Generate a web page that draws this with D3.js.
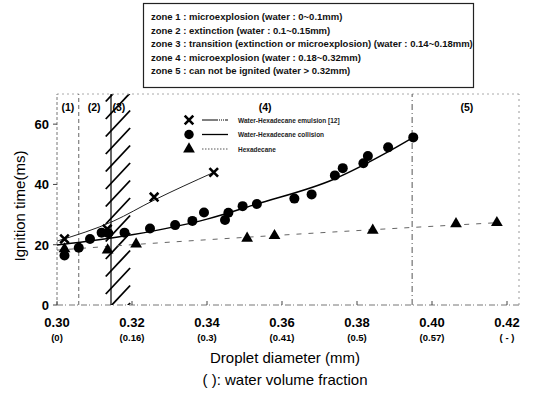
<!DOCTYPE html>
<html>
<head>
<meta charset="utf-8">
<script src="https://cdn.jsdelivr.net/npm/d3@7"></script>
<style>
  body { margin: 0; background: #fff; }
  svg { font-family: Arial, "Liberation Sans", sans-serif; }
  .zt { font-size: 9.5px; font-weight: bold; fill: #111; }
  .tick-x { font-size: 13px; font-weight: bold; }
  .tick-sub { font-size: 9.5px; font-weight: bold; }
  .lg { font-size: 6.5px; font-weight: bold; fill: #222; }
</style>
</head>
<body>
<div id="chart"></div>
<script>
// data ---------------------------------------------------------------------
var zoneNotes = [
  "zone 1 : microexplosion (water : 0~0.1mm)",
  "zone 2 : extinction (water : 0.1~0.15mm)",
  "zone 3 : transition (extinction or microexplosion) (water : 0.14~0.18mm)",
  "zone 4 : microexplosion (water : 0.18~0.32mm)",
  "zone 5 : can not be ignited (water > 0.32mm)"
];

var xTicks = [0.30, 0.32, 0.34, 0.36, 0.38, 0.40, 0.42];
var xSubLabels = ["(0)", "(0.16)", "(0.3)", "(0.41)", "(0.5)", "(0.57)", "( - )"];
var yTicks = [0, 20, 40, 60];

// emulsion [12]  (crosses)
var emulsionD = [0.302, 0.3134, 0.3259, 0.3418];
var emulsionT = [21.9, 25.2, 35.8, 44.0];
var emulsionFitD = [0.300, 0.315, 0.3259, 0.3418];
var emulsionFitT = [21.2, 27.8, 34.8, 44.0];

// collision (circles)
var collisionD = [0.302, 0.3058, 0.3088, 0.3119, 0.3137, 0.3180, 0.3248, 0.3315, 0.3361,
                  0.3392, 0.3448, 0.3457, 0.3495, 0.3533, 0.3633, 0.3679, 0.3741, 0.3762,
                  0.3817, 0.3829, 0.3883, 0.3950];
var collisionT = [16.4, 19.0, 21.9, 24.0, 23.8, 24.0, 25.4, 26.5, 27.9,
                  30.7, 28.2, 30.6, 32.8, 33.5, 35.3, 36.7, 43.0, 45.4,
                  47.0, 49.4, 52.3, 55.6];
var collisionFitD = [0.300, 0.320, 0.340, 0.353, 0.374, 0.388, 0.395];
var collisionFitT = [19.9, 23.3, 28.5, 33.4, 41.8, 50.6, 55.6];

// hexadecane (triangles)
var hexD = [0.302, 0.3135, 0.3211, 0.3507, 0.3580, 0.3842, 0.4064, 0.4173];
var hexT = [18.6, 18.2, 20.2, 22.1, 23.0, 24.8, 26.9, 27.3];
var hexFitD = [0.300, 0.320, 0.360, 0.4173];
var hexFitT = [18.2, 20.0, 23.2, 27.3];

// zone boundaries and labels
var zoneLabels = ["(1)", "(2)", "(3)", "(4)", "(5)"];
var zoneLabelD = [0.3029, 0.3099, 0.3165, 0.3555, 0.4093];
var hatchFrom = 0.3130, hatchTo = 0.3195;
var bound12 = 0.3058, bound23 = 0.3144, bound45 = 0.3947, rightEdge = 0.4232;

var legendNames = ["Water-Hexadecane emulsion [12]", "Water-Hexadecane collision", "Hexadecane"];

// layout -------------------------------------------------------------------
var width = 534, height = 393;

var svg = d3.select("#chart").append("svg")
    .attr("width", width)
    .attr("height", height);

var x = d3.scaleLinear().domain([0.30, 0.42]).range([57, 507]);
var y = d3.scaleLinear().domain([0, 70]).range([305, 94]);

var pts = function(ds, ts) { return ds.map(function(d, i) { return [d, ts[i]]; }); };

// legend box at the top
var box = svg.append("g");
box.append("rect")
    .attr("x", 143.5).attr("y", 3.5)
    .attr("width", 330).attr("height", 84)
    .attr("fill", "#fff").attr("stroke", "#222").attr("stroke-width", 1.2);
box.selectAll("text")
    .data(zoneNotes)
  .enter().append("text")
    .attr("class", "zt")
    .attr("x", 151)
    .attr("y", function(d, i) { return 20 + i * 13.6; })
    .text(function(d) { return d; });

var defs = svg.append("defs");
defs.append("clipPath").attr("id", "plotclip")
  .append("rect")
    .attr("x", x(0.30)).attr("y", y(70))
    .attr("width", x(rightEdge) - x(0.30)).attr("height", y(0) - y(70));

var plot = svg.append("g");

// hatch strokes of zone 3 (decoration, clipped to the plot)
var hatch = plot.append("g").attr("clip-path", "url(#plotclip)");
hatch.selectAll("line")
    .data(d3.range(y(70) - 10, y(0) + 30, 17.5))
  .enter().append("line")
    .attr("x1", x(hatchFrom)).attr("y1", function(d) { return d; })
    .attr("x2", x(hatchTo)).attr("y2", function(d) { return d - 26; })
    .attr("stroke", "#000").attr("stroke-width", 1.8);

// frame / axes (dotted, scanned look)
var grey = "#777";
plot.append("line")
    .attr("x1", x(0.30)).attr("x2", x(rightEdge))
    .attr("y1", y(70)).attr("y2", y(70))
    .attr("stroke", "#aaa").attr("stroke-dasharray", "2,3");
plot.append("line")
    .attr("x1", x(0.30)).attr("x2", x(rightEdge))
    .attr("y1", y(0)).attr("y2", y(0))
    .attr("stroke", grey).attr("stroke-dasharray", "6,2,1,3");
plot.append("line")
    .attr("x1", x(0.30)).attr("x2", x(0.30))
    .attr("y1", y(0)).attr("y2", y(70))
    .attr("stroke", grey).attr("stroke-dasharray", "3,2");
plot.append("line")
    .attr("x1", x(rightEdge)).attr("x2", x(rightEdge))
    .attr("y1", y(0)).attr("y2", y(70))
    .attr("stroke", "#999").attr("stroke-dasharray", "2,4");

// zone boundaries
plot.append("line")
    .attr("x1", x(bound12)).attr("x2", x(bound12))
    .attr("y1", y(0)).attr("y2", y(70))
    .attr("stroke", "#666").attr("stroke-dasharray", "4,3");
plot.append("line")
    .attr("x1", x(bound23)).attr("x2", x(bound23))
    .attr("y1", y(0)).attr("y2", y(70))
    .attr("stroke", "#000").attr("stroke-width", 1.2);
plot.append("line")
    .attr("x1", x(bound45)).attr("x2", x(bound45))
    .attr("y1", y(0)).attr("y2", y(70))
    .attr("stroke", "#555").attr("stroke-dasharray", "6,3,1,3");

// ticks
plot.selectAll(".ytk")
    .data(yTicks)
  .enter().append("line")
    .attr("x1", x(0.30) - 4).attr("x2", x(0.30))
    .attr("y1", function(d) { return y(d); })
    .attr("y2", function(d) { return y(d); })
    .attr("stroke", "#444");
plot.selectAll(".xtk")
    .data(xTicks)
  .enter().append("line")
    .attr("x1", function(d) { return x(d); })
    .attr("x2", function(d) { return x(d); })
    .attr("y1", y(0)).attr("y2", y(0) - 4)
    .attr("stroke", "#444");

svg.selectAll(".ylab")
    .data(yTicks)
  .enter().append("text")
    .attr("class", "tick-x")
    .attr("x", x(0.30) - 8)
    .attr("y", function(d) { return y(d) + 5; })
    .attr("text-anchor", "end")
    .text(function(d) { return d; });

svg.selectAll(".xlab")
    .data(xTicks)
  .enter().append("text")
    .attr("class", "tick-x")
    .attr("x", function(d) { return x(d); })
    .attr("y", 327)
    .attr("text-anchor", "middle")
    .text(function(d) { return d3.format(".2f")(d); });

svg.selectAll(".xsub")
    .data(xTicks)
  .enter().append("text")
    .attr("class", "tick-sub")
    .attr("x", function(d) { return x(d); })
    .attr("y", 341)
    .attr("text-anchor", "middle")
    .text(function(d, i) { return xSubLabels[i]; });

// axis titles
svg.append("text")
    .attr("transform", "translate(25,206) rotate(-90)")
    .attr("text-anchor", "middle")
    .style("font-size", "15px")
    .text("Ignition time(ms)");
svg.append("text")
    .attr("x", 285).attr("y", 363)
    .attr("text-anchor", "middle")
    .style("font-size", "15px")
    .text("Droplet diameter (mm)");
svg.append("text")
    .attr("x", 285).attr("y", 385)
    .attr("text-anchor", "middle")
    .style("font-size", "15px")
    .text("( ): water volume fraction");

// zone labels
svg.selectAll(".zl")
    .data(zoneLabels)
  .enter().append("text")
    .attr("x", function(d, i) { return x(zoneLabelD[i]); })
    .attr("y", y(66) + 5)
    .attr("text-anchor", "middle")
    .style("font-size", "10.5px")
    .style("font-weight", "bold")
    .text(function(d) { return d; });

// fitted lines
var line = d3.line()
    .x(function(d) { return x(d[0]); })
    .y(function(d) { return y(d[1]); })
    .curve(d3.curveMonotoneX);

var lines = plot.append("g").attr("clip-path", "url(#plotclip)");
lines.append("path")
    .attr("d", line(pts(emulsionFitD, emulsionFitT)))
    .attr("fill", "none").attr("stroke", "#222").attr("stroke-width", 1);
lines.append("path")
    .attr("d", line(pts(collisionFitD, collisionFitT)))
    .attr("fill", "none").attr("stroke", "#000").attr("stroke-width", 1.4);
lines.append("path")
    .attr("d", line(pts(hexFitD, hexFitT)))
    .attr("fill", "none").attr("stroke", "#666").attr("stroke-width", 1)
    .attr("stroke-dasharray", "5,7");

// markers
var cross = d3.symbol().type(d3.symbolX).size(50);
var tri = d3.symbol().type(d3.symbolTriangle).size(60);

var marks = plot.append("g");
marks.selectAll(".hx")
    .data(pts(hexD, hexT))
  .enter().append("path")
    .attr("d", tri)
    .attr("transform", function(d) { return "translate(" + x(d[0]) + "," + y(d[1]) + ")"; })
    .attr("fill", "#000");
marks.selectAll(".cl")
    .data(pts(collisionD, collisionT))
  .enter().append("circle")
    .attr("cx", function(d) { return x(d[0]); })
    .attr("cy", function(d) { return y(d[1]); })
    .attr("r", 5)
    .attr("fill", "#000");
marks.selectAll(".em")
    .data(pts(emulsionD, emulsionT))
  .enter().append("path")
    .attr("d", cross)
    .attr("transform", function(d) { return "translate(" + x(d[0]) + "," + y(d[1]) + ")"; })
    .attr("fill", "none")
    .attr("stroke", "#000")
    .attr("stroke-width", 2.6);

// inner legend
var lg = svg.append("g").attr("transform", "translate(189,120)");
var rows = lg.selectAll("g")
    .data(legendNames)
  .enter().append("g")
    .attr("transform", function(d, i) { return "translate(0," + (i * 14.5) + ")"; });
rows.append("path")
    .attr("d", function(d, i) { return i == 0 ? cross() : i == 2 ? tri() : d3.symbol().type(d3.symbolCircle).size(70)(); })
    .attr("fill", function(d, i) { return i == 0 ? "none" : "#000"; })
    .attr("stroke", function(d, i) { return i == 0 ? "#000" : null; })
    .attr("stroke-width", 2.6);
rows.append("line")
    .attr("x1", 13).attr("x2", 39)
    .attr("stroke", function(d, i) { return i == 2 ? "#555" : "#000"; })
    .attr("stroke-width", function(d, i) { return i == 1 ? 1.3 : 1; })
    .attr("stroke-dasharray", function(d, i) { return i == 0 ? "16,1,1,1,1,1,1,1" : i == 2 ? "1.5,1.5" : null; });
rows.append("text")
    .attr("class", "lg")
    .attr("x", 49)
    .attr("y", 2.5)
    .text(function(d) { return d; });
</script>
</body>
</html>
